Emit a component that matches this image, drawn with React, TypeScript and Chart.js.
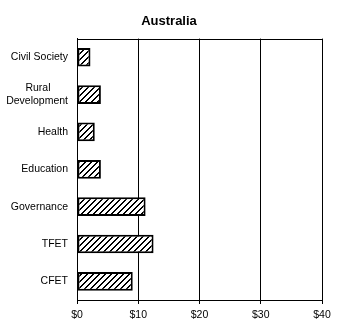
import React, { useEffect, useRef } from "react";
import { Chart, registerables } from "chart.js";

Chart.register(...registerables);

const title = "Australia";
const categories: (string | string[])[] = [
  "Civil Society",
  ["Rural      ", "Development"],
  "Health",
  "Education",
  "Governance",
  "TFET",
  "CFET",
];
const values = [2.2, 3.9, 2.9, 3.9, 11.2, 12.5, 9.1];
const xMin = 0;
const xMax = 40;
const xStep = 10;

const FONT = "'Liberation Sans', Arial, sans-serif";

function makeHatch(): CanvasPattern | string {
  const c = document.createElement("canvas");
  const n = 6;
  c.width = n;
  c.height = n;
  const ctx = c.getContext("2d");
  if (!ctx) return "#fff";
  ctx.fillStyle = "#ffffff";
  ctx.fillRect(0, 0, n, n);
  ctx.fillStyle = "#000000";
  for (let x = 0; x < n; x++) {
    for (let y = 0; y < n; y++) {
      const m = (x + y) % n;
      if (m === 0 || m === 1) ctx.fillRect(x, y, 1, 1);
    }
  }
  const p = ctx.createPattern(c, "repeat");
  return p || "#fff";
}

const topBorder = {
  id: "topBorder",
  afterLayout(chart: any) {
    const t = chart.titleBlock;
    if (t) {
      t.left += 8;
      t.right += 8;
    }
  },
  afterDatasetsDraw(chart: any) {
    const { ctx, chartArea } = chart;
    ctx.save();
    ctx.strokeStyle = "#000";
    ctx.lineWidth = 1;
    const y = Math.round(chartArea.top) + 0.5;
    ctx.beginPath();
    ctx.moveTo(chartArea.left, y);
    ctx.lineTo(chartArea.right + 0.5, y);
    ctx.stroke();
    ctx.restore();
  },
};

export default function App() {
  const ref = useRef<HTMLCanvasElement>(null);
  useEffect(() => {
    if (!ref.current) return;
    const chart = new Chart(ref.current, {
      type: "bar",
      data: {
        labels: categories,
        datasets: [
          {
            data: values,
            backgroundColor: makeHatch() as any,
            borderColor: "#000",
            borderWidth: 2,
            borderSkipped: false,
            barPercentage: 0.5,
            categoryPercentage: 1,
          },
        ],
      },
      options: {
        indexAxis: "y",
        animation: false,
        responsive: true,
        maintainAspectRatio: false,
        layout: { padding: { left: 0, right: 22, top: 0, bottom: 0 } },
        plugins: {
          legend: { display: false },
          tooltip: { enabled: false },
          title: {
            display: true,
            text: title,
            color: "#000",
            font: { family: FONT, size: 13, weight: "bold", lineHeight: 1.2 },
            padding: { top: 14, bottom: 9 },
          },
        },
        scales: {
          x: {
            type: "linear",
            min: xMin,
            max: xMax,
            afterFit: (s: any) => {
              s.height = 32;
            },
            ticks: {
              stepSize: xStep,
              color: "#000",
              padding: 5,
              maxRotation: 0,
              font: { family: FONT, size: 10.5 },
              callback: (v: any) => "$" + v,
            },
            grid: {
              color: "#000",
              lineWidth: 1,
              tickLength: 4,
              drawTicks: true,
            },
            border: { display: true, color: "#000", width: 1 },
          },
          y: {
            type: "category",
            afterFit: (s: any) => {
              s.width = 77;
            },
            ticks: {
              color: "#000",
              padding: 9,
              autoSkip: false,
              font: { family: FONT, size: 10.5, lineHeight: 1.3 },
            },
            grid: { display: false, drawTicks: false, tickLength: 0 },
            border: { display: true, color: "#000", width: 1 },
          },
        },
      },
      plugins: [topBorder],
    });
    return () => chart.destroy();
  }, []);
  return (
    <div
      style={{
        position: "fixed",
        left: 0,
        top: 0,
        width: 344,
        height: 332,
        background: "#fff",
      }}
    >
      <canvas ref={ref} />
    </div>
  );
}
